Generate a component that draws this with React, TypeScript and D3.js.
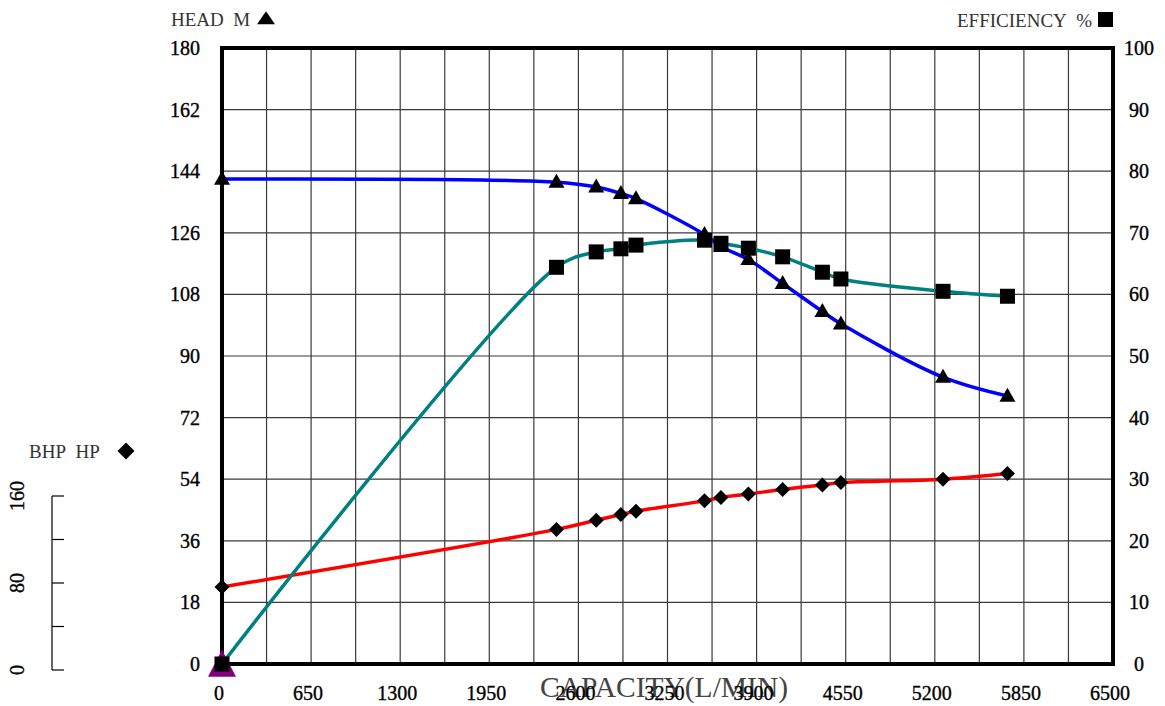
import * as d3 from 'd3';

// capacity (L/min) at each test point
const flow = [0, 2440, 2730, 2910, 3020, 3520, 3640, 3840, 4090, 4380, 4515, 5260, 5730];
// head in metres
const head = [141.7, 140.8, 139.4, 137.5, 136, 125.5, 122, 118.2, 111.2, 103, 99.4, 83.8, 78.3];
// efficiency %
const eff = [0, 64.4, 66.9, 67.4, 68.0, 68.8, 68.3, 67.5, 66.1, 63.6, 62.5, 60.5, 59.7];
// brake horsepower
const bhp = [67.5, 118, 126, 131, 134, 143, 146, 149, 153, 157, 159, 162, 167];

const xTicks = [0, 650, 1300, 1950, 2600, 3250, 3900, 4550, 5200, 5850, 6500];
const headTicks = [0, 18, 36, 54, 72, 90, 108, 126, 144, 162, 180];
const effTicks = [0, 10, 20, 30, 40, 50, 60, 70, 80, 90, 100];
const bhpTicks = [0, 40, 80, 120, 160];
const bhpLabels = [0, 80, 160];

const W = 1165;
const H = 706;
const left = 222;
const right = 1113;
const top = 48;
const bottom = 664;

const serif = '"Liberation Serif", "Times New Roman", serif';

export default function App() {
  const x = d3.scaleLinear().domain([0, 6500]).range([left, right]);
  const yHead = d3.scaleLinear().domain([0, 180]).range([bottom, top]);
  const yEff = d3.scaleLinear().domain([0, 100]).range([bottom, top]);
  const yBhp = d3.scaleLinear().domain([0, 540]).range([bottom, top]);
  const yMini = d3.scaleLinear().domain([0, 160]).range([670, 496]);

  const idx = d3.range(flow.length);
  const curve = d3.curveCatmullRom.alpha(0.5);

  const headLine = d3.line<number>().x((i) => x(flow[i])).y((i) => yHead(head[i])).curve(curve);
  const effLine = d3.line<number>().x((i) => x(flow[i])).y((i) => yEff(eff[i])).curve(curve);
  const bhpLine = d3.line<number>().x((i) => x(flow[i])).y((i) => yBhp(bhp[i])).curve(curve);

  // grid every half tick on x, every tick on y
  const xGrid = d3.range(325, 6500, 325);
  const yGrid = headTicks.slice(1, -1);

  const tri = (cx: number, cy: number, w: number, h: number) =>
    `M${cx},${cy - h * 0.6}L${cx + w / 2},${cy + h * 0.4}L${cx - w / 2},${cy + h * 0.4}Z`;
  const diamond = (cx: number, cy: number, r: number) =>
    `M${cx},${cy - r}L${cx + r},${cy}L${cx},${cy + r}L${cx - r},${cy}Z`;

  const tickStyle = { fontSize: 20, fill: '#000', stroke: '#000', strokeWidth: 0.35 };

  return (
    <svg
      width={W}
      height={H}
      style={{ position: 'absolute', left: 0, top: 0, background: '#fff' }}
      fontFamily={serif}
    >
      {/* grid */}
      <g stroke="#3a3a3a" strokeWidth={1.2}>
        {xGrid.map((v) => (
          <line key={'gx' + v} x1={x(v)} x2={x(v)} y1={top} y2={bottom} />
        ))}
        {yGrid.map((v) => (
          <line key={'gy' + v} x1={left} x2={right} y1={yHead(v)} y2={yHead(v)} />
        ))}
      </g>

      {/* frame */}
      <rect x={left} y={top} width={right - left} height={bottom - top} fill="none" stroke="#000" strokeWidth={4} />

      <text x={664} y={687} dy="0.35em" textAnchor="middle" fontSize={29.5} fill="#444">
        CAPACITY(L/MIN)
      </text>

      {/* left axis labels */}
      {headTicks.map((v) => (
        <text key={'lh' + v} x={200} y={yHead(v)} dy="0.35em" textAnchor="end" {...tickStyle}>
          {v}
        </text>
      ))}
      {/* right axis labels */}
      {effTicks.map((v) => (
        <text key={'re' + v} x={1139} y={yEff(v)} dy="0.35em" textAnchor="middle" {...tickStyle}>
          {v}
        </text>
      ))}
      {/* bottom labels */}
      {xTicks.map((v) => (
        <text key={'bx' + v} x={x(v) - 3} y={693} dy="0.35em" textAnchor="middle" {...tickStyle}>
          {v}
        </text>
      ))}

      {/* headers */}
      <text x={171} y={19} dy="0.35em" fontSize={19} fill="#333">
        HEAD&#160;&#160;M
      </text>
      <path d={tri(266, 19, 18, 13)} fill="#000" />
      <text x={957} y={20} dy="0.35em" fontSize={19} fill="#333">
        EFFICIENCY&#160;&#160;%
      </text>
      <rect x={1098} y={12} width={15} height={15} fill="#000" />

      {/* BHP mini axis */}
      <text x={29} y={451} dy="0.35em" fontSize={19} fill="#333">
        BHP&#160;&#160;HP
      </text>
      <path d={diamond(126, 451, 8.5)} fill="#000" />
      <line x1={52} x2={52} y1={yMini(0)} y2={yMini(160)} stroke="#000" strokeWidth={1.2} />
      {bhpTicks.map((v) => (
        <line key={'mt' + v} x1={52} x2={64} y1={yMini(v)} y2={yMini(v)} stroke="#000" strokeWidth={1.2} />
      ))}
      {bhpLabels.map((v) => (
        <text
          key={'ml' + v}
          transform={`translate(17,${yMini(v)}) rotate(-90)`}
          dy="0.35em"
          textAnchor="middle"
          {...tickStyle}
        >
          {v}
        </text>
      ))}

      {/* curves */}
      <path d={bhpLine(idx) || ''} fill="none" stroke="#ff0000" strokeWidth={3.5} />
      <path d={effLine(idx) || ''} fill="none" stroke="#008080" strokeWidth={3.5} />
      <path d={headLine(idx) || ''} fill="none" stroke="#0000ff" strokeWidth={3.5} />

      {/* shut-off marker */}
      <path d={tri(x(0), yHead(0) + 2, 28, 27)} fill="#800080" />

      {/* markers */}
      {idx.map((i) => (
        <path key={'d' + i} d={diamond(x(flow[i]), yBhp(bhp[i]), 7.5)} fill="#000" />
      ))}
      {idx.map((i) => (
        <path key={'t' + i} d={tri(x(flow[i]), yHead(head[i]), 16, 14)} fill="#000" />
      ))}
      {idx.map((i) => (
        <rect
          key={'s' + i}
          x={x(flow[i]) - 7.5}
          y={yEff(eff[i]) - 7.5}
          width={15}
          height={15}
          fill="#000"
        />
      ))}
    </svg>
  );
}
